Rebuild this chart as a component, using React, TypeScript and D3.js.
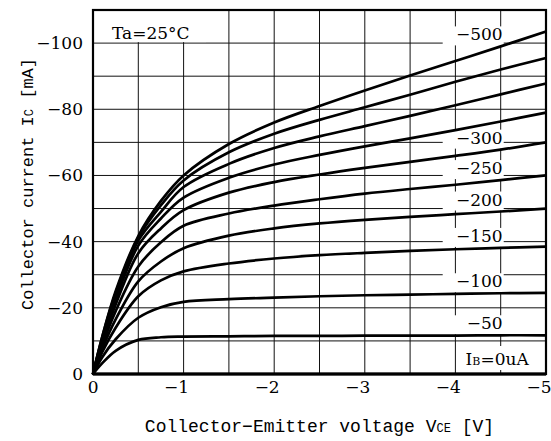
import * as d3 from 'd3';

// Vce sample points (V) and Ic (mA), one array per base current
const vce = [0, -0.1, -0.25, -0.5, -0.75, -1, -1.5, -2, -2.5, -3, -3.5, -4, -4.5, -5];
const ic50 = [0, -3.2, -7, -10.3, -11.1, -11.3, -11.4, -11.5, -11.5, -11.6, -11.6, -11.6, -11.7, -11.7];
const ic100 = [0, -5, -10.5, -17, -20.2, -21.8, -22.6, -23.1, -23.5, -23.8, -24, -24.2, -24.4, -24.5];
const ic150 = [0, -6.5, -14, -23.5, -28.3, -31, -33.4, -34.9, -35.9, -36.6, -37.2, -37.7, -38.1, -38.5];
const ic200 = [0, -7.5, -16.5, -28, -34, -38, -41.8, -44, -45.5, -46.6, -47.5, -48.3, -49.1, -50];
const ic250 = [0, -8.5, -19, -32.5, -39.8, -44.8, -48.5, -50.9, -52.8, -54.5, -55.9, -57.2, -58.6, -60];
const ic300 = [0, -9.5, -21, -36.5, -44, -49.5, -54.8, -58, -60.3, -62.3, -64.1, -65.9, -67.8, -70];
const ic350 = [0, -10, -22.5, -38.8, -47, -53.3, -59.3, -63.3, -66.2, -68.8, -71.2, -73.7, -76.3, -79];
const ic400 = [0, -10.5, -23.5, -40.3, -49, -56.5, -63.5, -68.3, -71.8, -74.9, -78, -81.2, -84.5, -87.8];
const ic450 = [0, -11, -24.5, -41.2, -51, -58.5, -67, -72.6, -76.8, -80.6, -84.4, -88.3, -92, -95.5];
const ic500 = [0, -11, -25, -41.7, -52.3, -60, -69.5, -76, -81, -85.7, -90.2, -94.6, -99, -103.5];
const ic0 = [0, 0, 0, 0, 0, 0, 0, 0, 0, 0, 0, 0, 0, 0];

const ibLevels = [0, -50, -100, -150, -200, -250, -300, -350, -400, -450, -500];
const icSeries = [ic0, ic50, ic100, ic150, ic200, ic250, ic300, ic350, ic400, ic450, ic500];
const labeledIb = [-500, -300, -250, -200, -150, -100, -50];

const xTicks = [0, -1, -2, -3, -4, -5];
const yTicks = [0, -20, -40, -60, -80, -100];
const xGrid = d3.range(0, -5.01, -0.5);
const yGrid = d3.range(0, -110.1, -10);

const fmt = (v: number) => (v < 0 ? '\u2212' + Math.abs(v) : String(v));

export default function App() {
  const width = 551;
  const height = 441;
  const left = 93;
  const right = 546;
  const top = 10;
  const bottom = 374;

  const x = d3.scaleLinear().domain([0, -5]).range([left, right]);
  const y = d3.scaleLinear().domain([0, -110]).range([bottom, top]);

  const line = d3
    .line<[number, number]>()
    .x((d) => x(d[0]))
    .y((d) => y(d[1]))
    .curve(d3.curveCatmullRom.alpha(0.5));

  const serif = '"DejaVu Serif", serif';
  const mono = '"Liberation Mono", monospace';

  // position of a curve label: just above its curve near Vce = -4.5 V
  const labelY = (ib: number) => {
    const s = icSeries[ibLevels.indexOf(ib)];
    return y(s[vce.indexOf(-4.5)]) - 6;
  };

  return (
    <svg
      width={width}
      height={height}
      style={{ position: 'absolute', left: 0, top: 0, background: 'white' }}
    >
      {/* grid */}
      {xGrid.map((v, i) => (
        <line key={'gx' + i} x1={x(v)} x2={x(v)} y1={top} y2={bottom} stroke="#111" strokeWidth={1} />
      ))}
      {yGrid.map((v, i) => (
        <line key={'gy' + i} x1={left} x2={right} y1={y(v)} y2={y(v)} stroke="#111" strokeWidth={1} />
      ))}

      {/* white boxes behind annotations */}
      <rect x={left + 1} y={top + 1} width={112} height={y(-100) - top - 2} fill="white" />
      {labeledIb.map((ib) => (
        <rect key={'bg' + ib} x={x(-4.5) - 58} y={labelY(ib) - 14} width={61} height={19} fill="white" />
      ))}
      <rect x={x(-4.5) - 42} y={bottom - 28} width={86} height={24} fill="white" />

      {/* characteristic curves */}
      {icSeries.map((s, i) => (
        <path
          key={'c' + ibLevels[i]}
          d={line(vce.map((v, j) => [v, s[j]] as [number, number])) ?? ''}
          fill="none"
          stroke="black"
          strokeWidth={2.7}
          strokeLinejoin="round"
        />
      ))}

      {/* frame */}
      <rect x={left} y={top} width={right - left} height={bottom - top} fill="none" stroke="black" strokeWidth={2.2} />
      <line x1={left} x2={right} y1={bottom} y2={bottom} stroke="black" strokeWidth={3} />

      {/* curve labels */}
      {labeledIb.map((ib) => (
        <text key={'l' + ib} x={x(-4.5) + 2} y={labelY(ib)} textAnchor="end" fontFamily={serif} fontSize={17}>
          {fmt(ib)}
        </text>
      ))}
      <text x={x(-4.5) + 28} y={bottom - 9} textAnchor="end" fontFamily={serif} fontSize={17}>
        I<tspan fontSize={11}>B</tspan>=0uA
      </text>
      <text x={112} y={39} fontFamily={serif} fontSize={17}>
        Ta=25°C
      </text>

      {/* tick labels */}
      {xTicks.map((v) => (
        <text key={'xt' + v} x={x(v) + 5.5} y={bottom + 19} textAnchor="end" fontFamily={serif} fontSize={17}>
          {fmt(v)}
        </text>
      ))}
      {yTicks.map((v) => (
        <text key={'yt' + v} x={left - 10} y={y(v) + 6} textAnchor="end" fontFamily={serif} fontSize={17}>
          {fmt(v)}
        </text>
      ))}

      {/* axis titles */}
      <text x={(left + right) / 2} y={432} textAnchor="middle" fontFamily={mono} fontSize={18}>
        Collector−Emitter voltage V<tspan fontSize={12}>CE</tspan> [V]
      </text>
      <text
        transform={`translate(33,${(top + bottom) / 2 - 8}) rotate(-90)`}
        textAnchor="middle"
        fontFamily={mono}
        fontSize={17}
      >
        Collector current I<tspan fontSize={12}>C</tspan> [mA]
      </text>
    </svg>
  );
}
